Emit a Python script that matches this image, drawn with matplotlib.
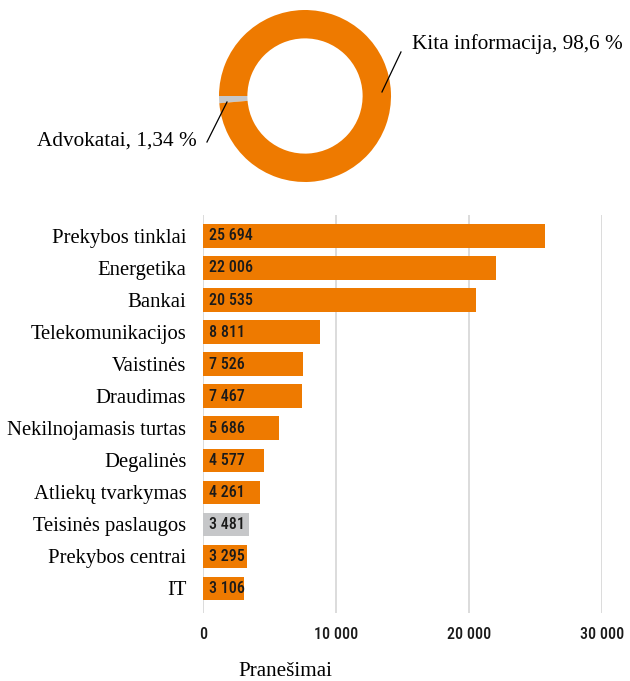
import matplotlib.pyplot as plt
from matplotlib.ticker import FuncFormatter

# donut data
pie_labels = ["Advokatai, 1,34 %", "Kita informacija, 98,6 %"]
pie_values = [1.34, 98.66]

# bar data
categories = ["Prekybos tinklai", "Energetika", "Bankai", "Telekomunikacijos",
              "Vaistinės", "Draudimas", "Nekilnojamasis turtas", "Degalinės",
              "Atliekų tvarkymas", "Teisinės paslaugos", "Prekybos centrai", "IT"]
values = [25694, 22006, 20535, 8811, 7526, 7467, 5686, 4577, 4261, 3481, 3295, 3106]
highlight = "Teisinės paslaugos"

ORANGE = "#EE7A00"
GREY = "#C6C7C9"
W, H = 630, 681

SERIF = "Liberation Serif"
NARROW = ["Roboto Condensed", "Open Sans Condensed", "Roboto"]


def thousands(v, _pos=None):
    return f"{int(v):,}".replace(",", " ")


fig = plt.figure(figsize=(W / 100, H / 100), dpi=100)

# ── donut ───────────────────────────────────────────────────────────────
cx, cy, r = 305, 96, 86
ax_pie = fig.add_axes([(cx - r) / W, (H - cy - r) / H, 2 * r / W, 2 * r / H])
ax_pie.pie(pie_values, colors=[GREY, ORANGE], startangle=180, counterclock=True,
           radius=1, wedgeprops=dict(width=0.33, linewidth=0))
ax_pie.set_xlim(-1, 1)
ax_pie.set_ylim(-1, 1)
ax_pie.set_aspect("equal")
ax_pie.axis("off")

# leader lines + labels
ax_pie.plot([0.895, 1.116], [0.047, 0.512], color="black", lw=0.9, clip_on=False)
ax_pie.text(1.244, 0.605, pie_labels[1], ha="left", va="center",
            fontsize=15.3, family=SERIF, clip_on=False)
ax_pie.plot([-0.907, -1.14], [-0.07, -0.535], color="black", lw=0.9, clip_on=False)
ax_pie.text(-1.256, -0.523, pie_labels[0], ha="right", va="center",
            fontsize=15.3, family=SERIF, clip_on=False)

# ── bars ────────────────────────────────────────────────────────────────
left, right, top, bottom = 203, 602, 215, 613
ax = fig.add_axes([left / W, (H - bottom) / H, (right - left) / W, (bottom - top) / H])
ypos = list(range(len(categories)))
colors = [GREY if c == highlight else ORANGE for c in categories]
ax.barh(ypos, values, height=0.72, color=colors, zorder=2)
for y, v in zip(ypos, values):
    ax.text(450, y, thousands(v), ha="left", va="center", fontsize=11.5,
            color="#1a1a1a", zorder=3, family=NARROW, weight="medium")

ax.set_xlim(0, 30000)
ax.set_ylim(11.78, -0.656)
ax.set_xticks([0, 10000, 20000, 30000])
ax.xaxis.set_major_formatter(FuncFormatter(thousands))
ax.set_yticks(ypos)
ax.set_yticklabels(categories, family=SERIF, fontsize=14.9)
for lab in ax.get_xticklabels():
    lab.set_fontsize(11.5)
    lab.set_fontweight("medium")
    lab.set_family(NARROW)
    lab.set_color("#1a1a1a")
ax.tick_params(axis="both", length=0)
ax.tick_params(axis="x", pad=10)
ax.tick_params(axis="y", pad=12)
ax.grid(axis="x", color="#DCDCDC", lw=1.4, zorder=0)
for s in ax.spines.values():
    s.set_visible(False)

fig.text(285 / W, 1 - 671 / H, "Pranešimai", ha="center", va="center",
         fontsize=15.2, family=SERIF)

fig.savefig("out.png", dpi=100)
